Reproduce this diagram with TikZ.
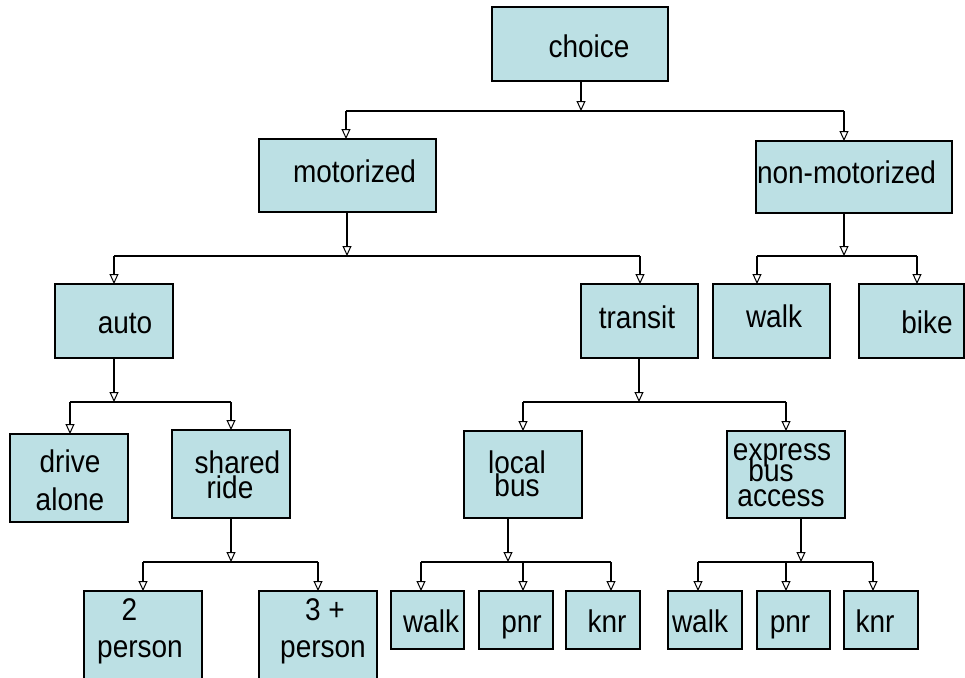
\documentclass[tikz,border=0pt]{standalone}
\usepackage{fontspec}
\setmainfont{Liberation Sans}
\usetikzlibrary{arrows.meta}
\definecolor{boxfill}{RGB}{188,224,228}
\tikzset{
  box/.style={draw=black, fill=boxfill, line width=2.2pt, inner sep=0pt, outer sep=0pt},
  lbltxt/.style={inner sep=0pt, outer sep=0pt, anchor=base, font=\fontsize{28}{30}\selectfont},
  tip/.style={-{Triangle[width=9pt,length=10pt,fill=white,line width=1pt]}},
  stem/.style={tip, line width=2pt},
  bus/.style={line width=1.5pt},
  drop/.style={tip, line width=1.6pt},
}
\newcommand\bx[6]{\node[box, minimum width=#4pt, minimum height=#5pt] (#1) at (#2,#3) {};}
\newcommand\lb[4]{\node[lbltxt] (#1) at (#2,#3) {\scalebox{1}[1.12]{#4}};}
\begin{document}
\begin{tikzpicture}[x=1pt,y=-1pt]
\useasboundingbox (0,0) rectangle (965,677);
\clip (0,0) rectangle (965,677);
% boxes
\bx{choice}{580}{44}{176}{74}{}
\bx{motor}{347.5}{175.5}{177}{73}{}
\bx{nonmot}{854}{177}{196}{72}{}
\bx{auto}{114}{321}{118}{74}{}
\bx{transit}{639.5}{321}{117}{74}{}
\bx{walkN}{771.5}{321}{117}{74}{}
\bx{bike}{911.5}{321}{105}{74}{}
\bx{drive}{69}{478}{118}{88}{}
\bx{shared}{231}{474}{118}{88}{}
\bx{local}{523}{474.5}{118}{87}{}
\bx{express}{786}{474.5}{118}{87}{}
\bx{ptwo}{143}{646}{118}{110}{}
\bx{pthree}{318}{646}{118}{110}{}
\bx{wlk1}{427.5}{620}{73}{58}{}
\bx{pnr1}{516}{620}{74}{58}{}
\bx{knr1}{603}{620}{74}{58}{}
\bx{wlk2}{705}{620}{74}{58}{}
\bx{pnr2}{793.5}{620}{73}{58}{}
\bx{knr2}{881}{620}{74}{58}{}
% labels
\lb{t-choice}{589}{57}{choice}
\lb{t-motor}{354.5}{182}{motorized}
\lb{t-nonmot}{846.5}{183}{non-motorized}
\lb{t-auto}{125}{333}{auto}
\lb{t-transit}{637}{328}{transit}
\lb{t-walkN}{774}{327}{walk}
\lb{t-bike}{927}{333}{bike}
\lb{t-drive1}{70}{472}{drive}
\lb{t-drive2}{70}{510}{alone}
\lb{t-shared1}{237.5}{473}{shared}
\lb{t-shared2}{230}{498}{ride}
\lb{t-ptwo1}{129.5}{620}{2}
\lb{t-ptwo2}{140}{657}{person}
\lb{t-pthree1}{325}{620}{3 +}
\lb{t-pthree2}{323}{657}{person}
\lb{t-local1}{517}{473}{local}
\lb{t-local2}{517}{496}{bus}
\lb{t-exp1}{782}{460}{express}
\lb{t-exp2}{771}{481}{bus}
\lb{t-exp3}{781}{506}{access}
\lb{t-wlk1}{431}{632}{walk}
\lb{t-pnr1}{521.5}{632}{pnr}
\lb{t-knr1}{607}{632}{knr}
\lb{t-wlk2}{700}{632}{walk}
\lb{t-pnr2}{790}{632}{pnr}
\lb{t-knr2}{875}{632}{knr}
% junction coordinates on the buses
\coordinate (j0) at (581,111);
\coordinate (j0a) at (346,111);
\coordinate (j0b) at (844,111);
\coordinate (j1) at (347,256);
\coordinate (j1a) at (114,256);
\coordinate (j1b) at (640,256);
\coordinate (j2) at (844,256);
\coordinate (j2a) at (757,256);
\coordinate (j2b) at (917,256);
\coordinate (j3) at (114,402);
\coordinate (j3a) at (70,402);
\coordinate (j3b) at (231,402);
\coordinate (j4) at (639,402);
\coordinate (j4a) at (523,402);
\coordinate (j4b) at (786,402);
\coordinate (j5) at (231,562);
\coordinate (j5a) at (143,562);
\coordinate (j5b) at (318,562);
\coordinate (j6) at (508,562);
\coordinate (j6a) at (421,562);
\coordinate (j6b) at (523,562);
\coordinate (j6c) at (611,562);
\coordinate (j7) at (801,562);
\coordinate (j7a) at (698,562);
\coordinate (j7b) at (786,562);
\coordinate (j7c) at (873,562);
% buses
\draw[bus] (j0a) -- (j0b);
\draw[bus] (j1a) -- (j1b);
\draw[bus] (j2a) -- (j2b);
\draw[bus] (j3a) -- (j3b);
\draw[bus] (j4a) -- (j4b);
\draw[bus] (j5a) -- (j5b);
\draw[bus] (j6a) -- (j6c);
\draw[bus] (j7a) -- (j7c);
% stems
\draw[stem] (choice.south -| j0) -- (j0);
\draw[stem] (motor.south -| j1) -- (j1);
\draw[stem] (nonmot.south -| j2) -- (j2);
\draw[stem] (auto.south -| j3) -- (j3);
\draw[stem] (transit.south -| j4) -- (j4);
\draw[stem] (shared.south -| j5) -- (j5);
\draw[stem] (local.south -| j6) -- (j6);
\draw[stem] (express.south -| j7) -- (j7);
% drops
\draw[drop] (j0a) -- (j0a |- motor.north);
\draw[drop] (j0b) -- (j0b |- nonmot.north);
\draw[drop] (j1a) -- (j1a |- auto.north);
\draw[drop] (j1b) -- (j1b |- transit.north);
\draw[drop] (j2a) -- (j2a |- walkN.north);
\draw[drop] (j2b) -- (j2b |- bike.north);
\draw[drop] (j3a) -- (j3a |- drive.north);
\draw[drop] (j3b) -- (j3b |- shared.north);
\draw[drop] (j4a) -- (j4a |- local.north);
\draw[drop] (j4b) -- (j4b |- express.north);
\draw[drop] (j5a) -- (j5a |- ptwo.north);
\draw[drop] (j5b) -- (j5b |- pthree.north);
\draw[drop] (j6a) -- (j6a |- wlk1.north);
\draw[drop] (j6b) -- (j6b |- pnr1.north);
\draw[drop] (j6c) -- (j6c |- knr1.north);
\draw[drop] (j7a) -- (j7a |- wlk2.north);
\draw[drop] (j7b) -- (j7b |- pnr2.north);
\draw[drop] (j7c) -- (j7c |- knr2.north);
\end{tikzpicture}
\end{document}
